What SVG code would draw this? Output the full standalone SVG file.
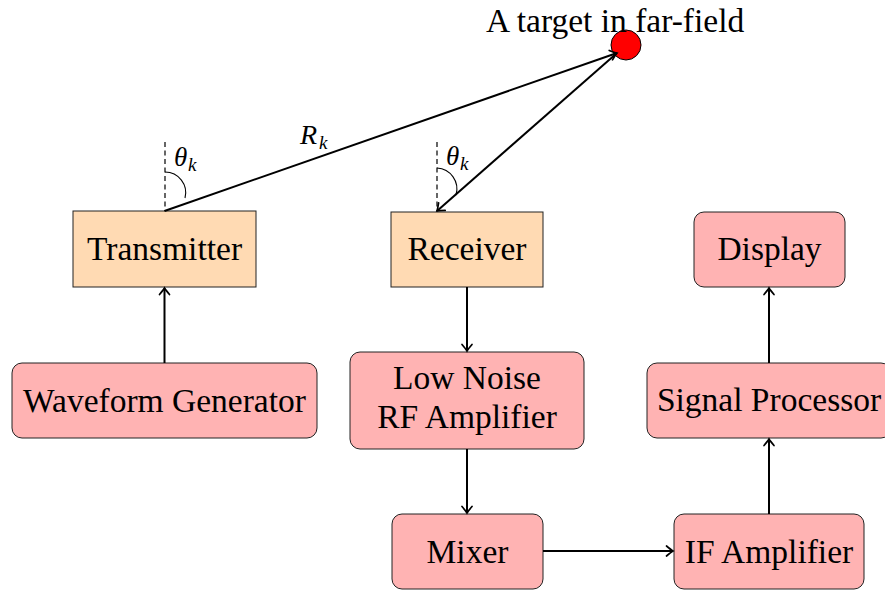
<svg xmlns="http://www.w3.org/2000/svg" width="885" height="593" viewBox="0 0 885 593">
<style>
.box{stroke:#222;stroke-width:1}
.orange{fill:#FFDAB3}
.red{fill:#FFB3B3}
.lbl{font-family:"Liberation Serif",serif;font-size:33.5px;fill:#000;text-anchor:middle}
.math{font-family:"Liberation Serif",serif;font-style:italic;fill:#000}
.top{font-family:"Liberation Serif",serif;font-size:33.5px;fill:#000}
.conn{stroke:#000;stroke-width:2;fill:none}
.aux{stroke:#000;stroke-width:1.1;fill:none}
.dash{stroke:#000;stroke-width:1.2;fill:none;stroke-dasharray:5 3.5}
</style>
<defs>
<marker id="arr" markerUnits="userSpaceOnUse" markerWidth="16" markerHeight="16" viewBox="-8 -8 16 16" refX="0" refY="0" orient="auto">
<path d="M -6.5 -5 Q -2 -1.2 0 0 Q -2 1.2 -6.5 5" fill="none" stroke="#000" stroke-width="1.7" stroke-linecap="round"/>
</marker>
</defs>
<rect width="885" height="593" fill="#fff"/>
<g id="target">
<circle cx="626" cy="45" r="15" fill="#FF0000" stroke="#000" stroke-width="1"/>
<text class="top" x="486" y="32">A target in far-field</text>
</g>
<g id="transmitter">
<rect class="box orange" x="73" y="211" width="183" height="76"/>
<text class="lbl" x="164.5" y="260">Transmitter</text>
</g>
<g id="receiver">
<rect class="box orange" x="391" y="212" width="152" height="75"/>
<text class="lbl" x="467" y="260">Receiver</text>
</g>
<g id="display">
<rect class="box red" x="694" y="212" width="151" height="75" rx="10"/>
<text class="lbl" x="769.5" y="260">Display</text>
</g>
<g id="waveform">
<rect class="box red" x="12" y="363" width="305" height="75" rx="10"/>
<text class="lbl" x="164.5" y="412">Waveform Generator</text>
</g>
<g id="lna">
<rect class="box red" x="350" y="352" width="234" height="97" rx="10"/>
<text class="lbl" x="467" y="389">Low Noise</text>
<text class="lbl" x="467" y="428">RF Amplifier</text>
</g>
<g id="mixer">
<rect class="box red" x="392" y="514" width="151" height="75" rx="10"/>
<text class="lbl" x="467.5" y="563">Mixer</text>
</g>
<g id="signalprocessor">
<rect class="box red" x="647" y="363" width="244" height="75" rx="10"/>
<text class="lbl" x="769" y="411">Signal Processor</text>
</g>
<g id="ifamp">
<rect class="box red" x="674" y="514" width="190" height="75" rx="10"/>
<text class="lbl" x="769" y="563">IF Amplifier</text>
</g>
<g id="angles">
<line class="dash" x1="165" y1="142" x2="165" y2="211"/>
<path class="aux" d="M165,172 A20.7,20.7 0 0 1 185,198"/>
<text class="math" x="174" y="166" font-size="27">θ<tspan x="188" y="171" font-size="19">k</tspan></text>
<line class="dash" x1="437" y1="142" x2="437" y2="211"/>
<path class="aux" d="M437,168 A21,21 0 0 1 456,195"/>
<text class="math" x="446" y="165" font-size="27">θ<tspan x="460" y="170" font-size="19">k</tspan></text>
<text class="math" x="300" y="144" font-size="28">R<tspan x="319" y="149" font-size="19">k</tspan></text>
</g>
<g id="connectors">
<line class="conn" x1="164.5" y1="363" x2="164.5" y2="288" marker-end="url(#arr)"/>
<line class="conn" x1="164.5" y1="211" x2="617" y2="53" marker-end="url(#arr)"/>
<line class="conn" x1="617" y1="53" x2="437" y2="211" marker-end="url(#arr)"/>
<line class="conn" x1="467" y1="287" x2="467" y2="351" marker-end="url(#arr)"/>
<line class="conn" x1="467" y1="449" x2="467" y2="513" marker-end="url(#arr)"/>
<line class="conn" x1="543" y1="551" x2="673" y2="551" marker-end="url(#arr)"/>
<line class="conn" x1="769" y1="514" x2="769" y2="439" marker-end="url(#arr)"/>
<line class="conn" x1="769" y1="363" x2="769" y2="288" marker-end="url(#arr)"/>
</g>
</svg>
